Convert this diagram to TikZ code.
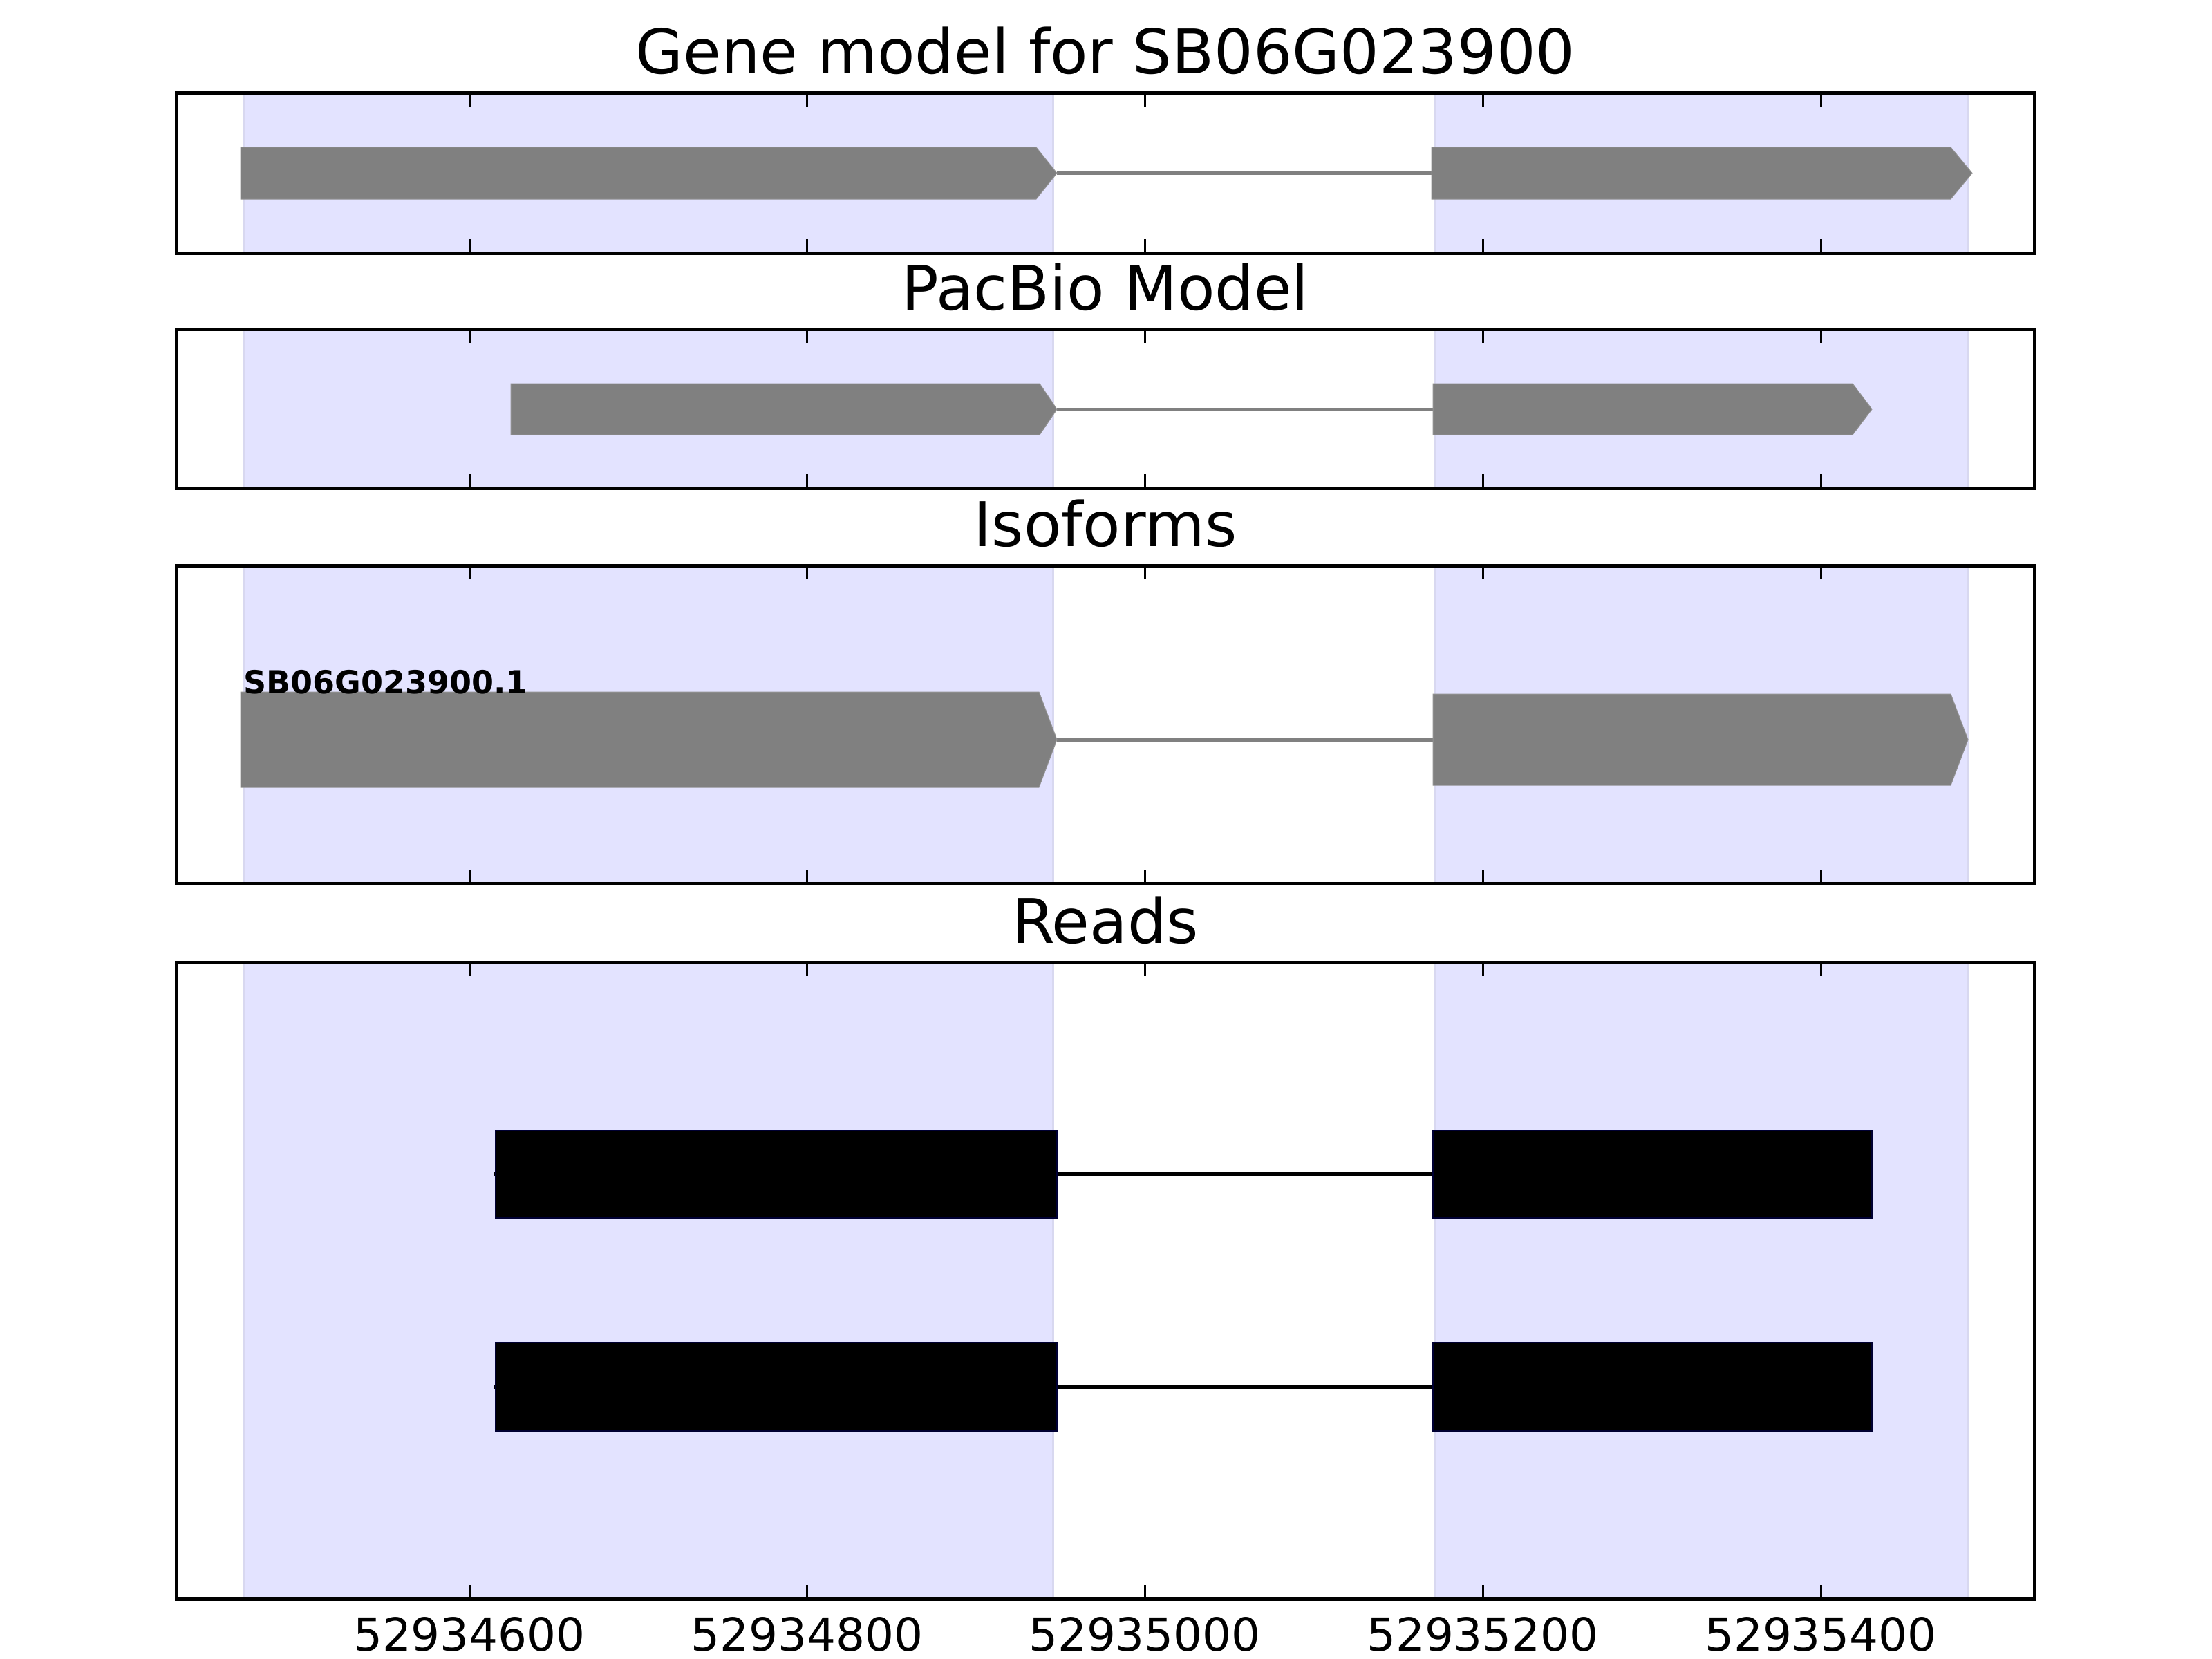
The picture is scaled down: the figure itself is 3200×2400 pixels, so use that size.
\documentclass[tikz,border=0pt]{standalone}
\usepackage{fontspec}
\setmainfont{DejaVu Sans}
\definecolor{spanfill}{RGB}{227,227,255}
\definecolor{spanedge}{RGB}{216,216,240}
\definecolor{exongray}{RGB}{128,128,128}
\newcommand{\exonpoly}[6]{% style, xs, xe, xt, ytop, ybot
  \path[#1] (#2,#5) -- (#3,#5) -- (#4,{(#5+#6)/2}) -- (#3,#6) -- (#2,#6) -- cycle;}
\begin{document}
\begin{tikzpicture}[x=1pt,y=-1pt,
  frame/.style={draw=black,line width=5pt},
  spanbox/.style={fill=spanfill,draw=spanedge,line width=3pt},
  geneexon/.style={fill=exongray,draw=exongray!85!white,line width=1pt},
  intronline/.style={draw=exongray,line width=5pt},
  readexon/.style={fill=black,draw=black!80!blue,line width=1.5pt},
  readintron/.style={draw=black,line width=5pt},
  tickmark/.style={draw=black,line width=3pt},
  titletext/.style={font=\fontsize{89}{100}\selectfont,inner sep=0pt,anchor=base},
  ticktext/.style={font=\fontsize{66}{76}\selectfont,inner sep=0pt,anchor=base},
  isolabel/.style={font=\fontsize{46}{52}\selectfont\bfseries,inner sep=0pt,anchor=base west}]

\useasboundingbox (0,0) rectangle (3200,2400);
\fill[white] (0,0) rectangle (3200,2400);

% panel backgrounds: shaded exon spans
\foreach \yt/\yb in {135/366, 476/706, 818/1278, 1392/2313}{
  \path[spanbox] (352,\yt) rectangle (1523,\yb);
  \path[spanbox] (2075,\yt) rectangle (2847,\yb);
}

% --- Gene model ---
\coordinate (g1end) at (1529,250.5);
\coordinate (g2start) at (2071,250.5);
\draw[intronline] (g1end) -- (g2start);
\exonpoly{geneexon}{348}{1499}{1529}{213}{288}
\exonpoly{geneexon}{2071}{2822}{2853}{213}{288}

% --- PacBio model ---
\coordinate (p1end) at (1529,592);
\coordinate (p2start) at (2073,592);
\draw[intronline] (p1end) -- (p2start);
\exonpoly{geneexon}{739}{1504}{1529}{555}{629}
\exonpoly{geneexon}{2073}{2680}{2708}{555}{629}

% --- Isoforms ---
\coordinate (i1end) at (1529,1070);
\coordinate (i2start) at (2073,1070);
\draw[intronline] (i1end) -- (i2start);
\exonpoly{geneexon}{348}{1503}{1529}{1001}{1139}
\exonpoly{geneexon}{2073}{2822}{2847}{1004}{1136}
\node[isolabel] (isoname) at (352,1003) {SB06G023900.1};

% --- Reads ---
\coordinate (r1start) at (714,1698.5);
\coordinate (r1gap) at (2073,1698.5);
\draw[readintron] (r1start) -- (r1gap);
\path[readexon] (717,1635) rectangle (1529,1762);
\path[readexon] (2073,1635) rectangle (2708,1762);
\coordinate (r2start) at (714,2006);
\coordinate (r2gap) at (2073,2006);
\draw[readintron] (r2start) -- (r2gap);
\path[readexon] (717,1942) rectangle (1529,2070);
\path[readexon] (2073,1942) rectangle (2708,2070);

% frames and ticks
\foreach \yt/\yb in {135/366, 476/706, 818/1278, 1392/2313}{
  \foreach \xt in {679,1167.6,1656,2145,2634}{
    \draw[tickmark] (\xt,\yt) -- (\xt,\yt+20);
    \draw[tickmark] (\xt,\yb) -- (\xt,\yb-20);
  }
  \path[frame] (255,\yt) rectangle (2943,\yb);
}

% titles
\node[titletext] (t1) at (1599,107) {Gene model for SB06G023900};
\node[titletext] (t2) at (1599,448) {PacBio Model};
\node[titletext] (t3) at (1599,790) {Isoforms};
\node[titletext] (t4) at (1599,1364) {Reads};

% tick labels
\node[ticktext] (l1) at (679,2388) {52934600};
\node[ticktext] (l2) at (1167.6,2388) {52934800};
\node[ticktext] (l3) at (1656,2388) {52935000};
\node[ticktext] (l4) at (2145,2388) {52935200};
\node[ticktext] (l5) at (2634,2388) {52935400};
\end{tikzpicture}
\end{document}
